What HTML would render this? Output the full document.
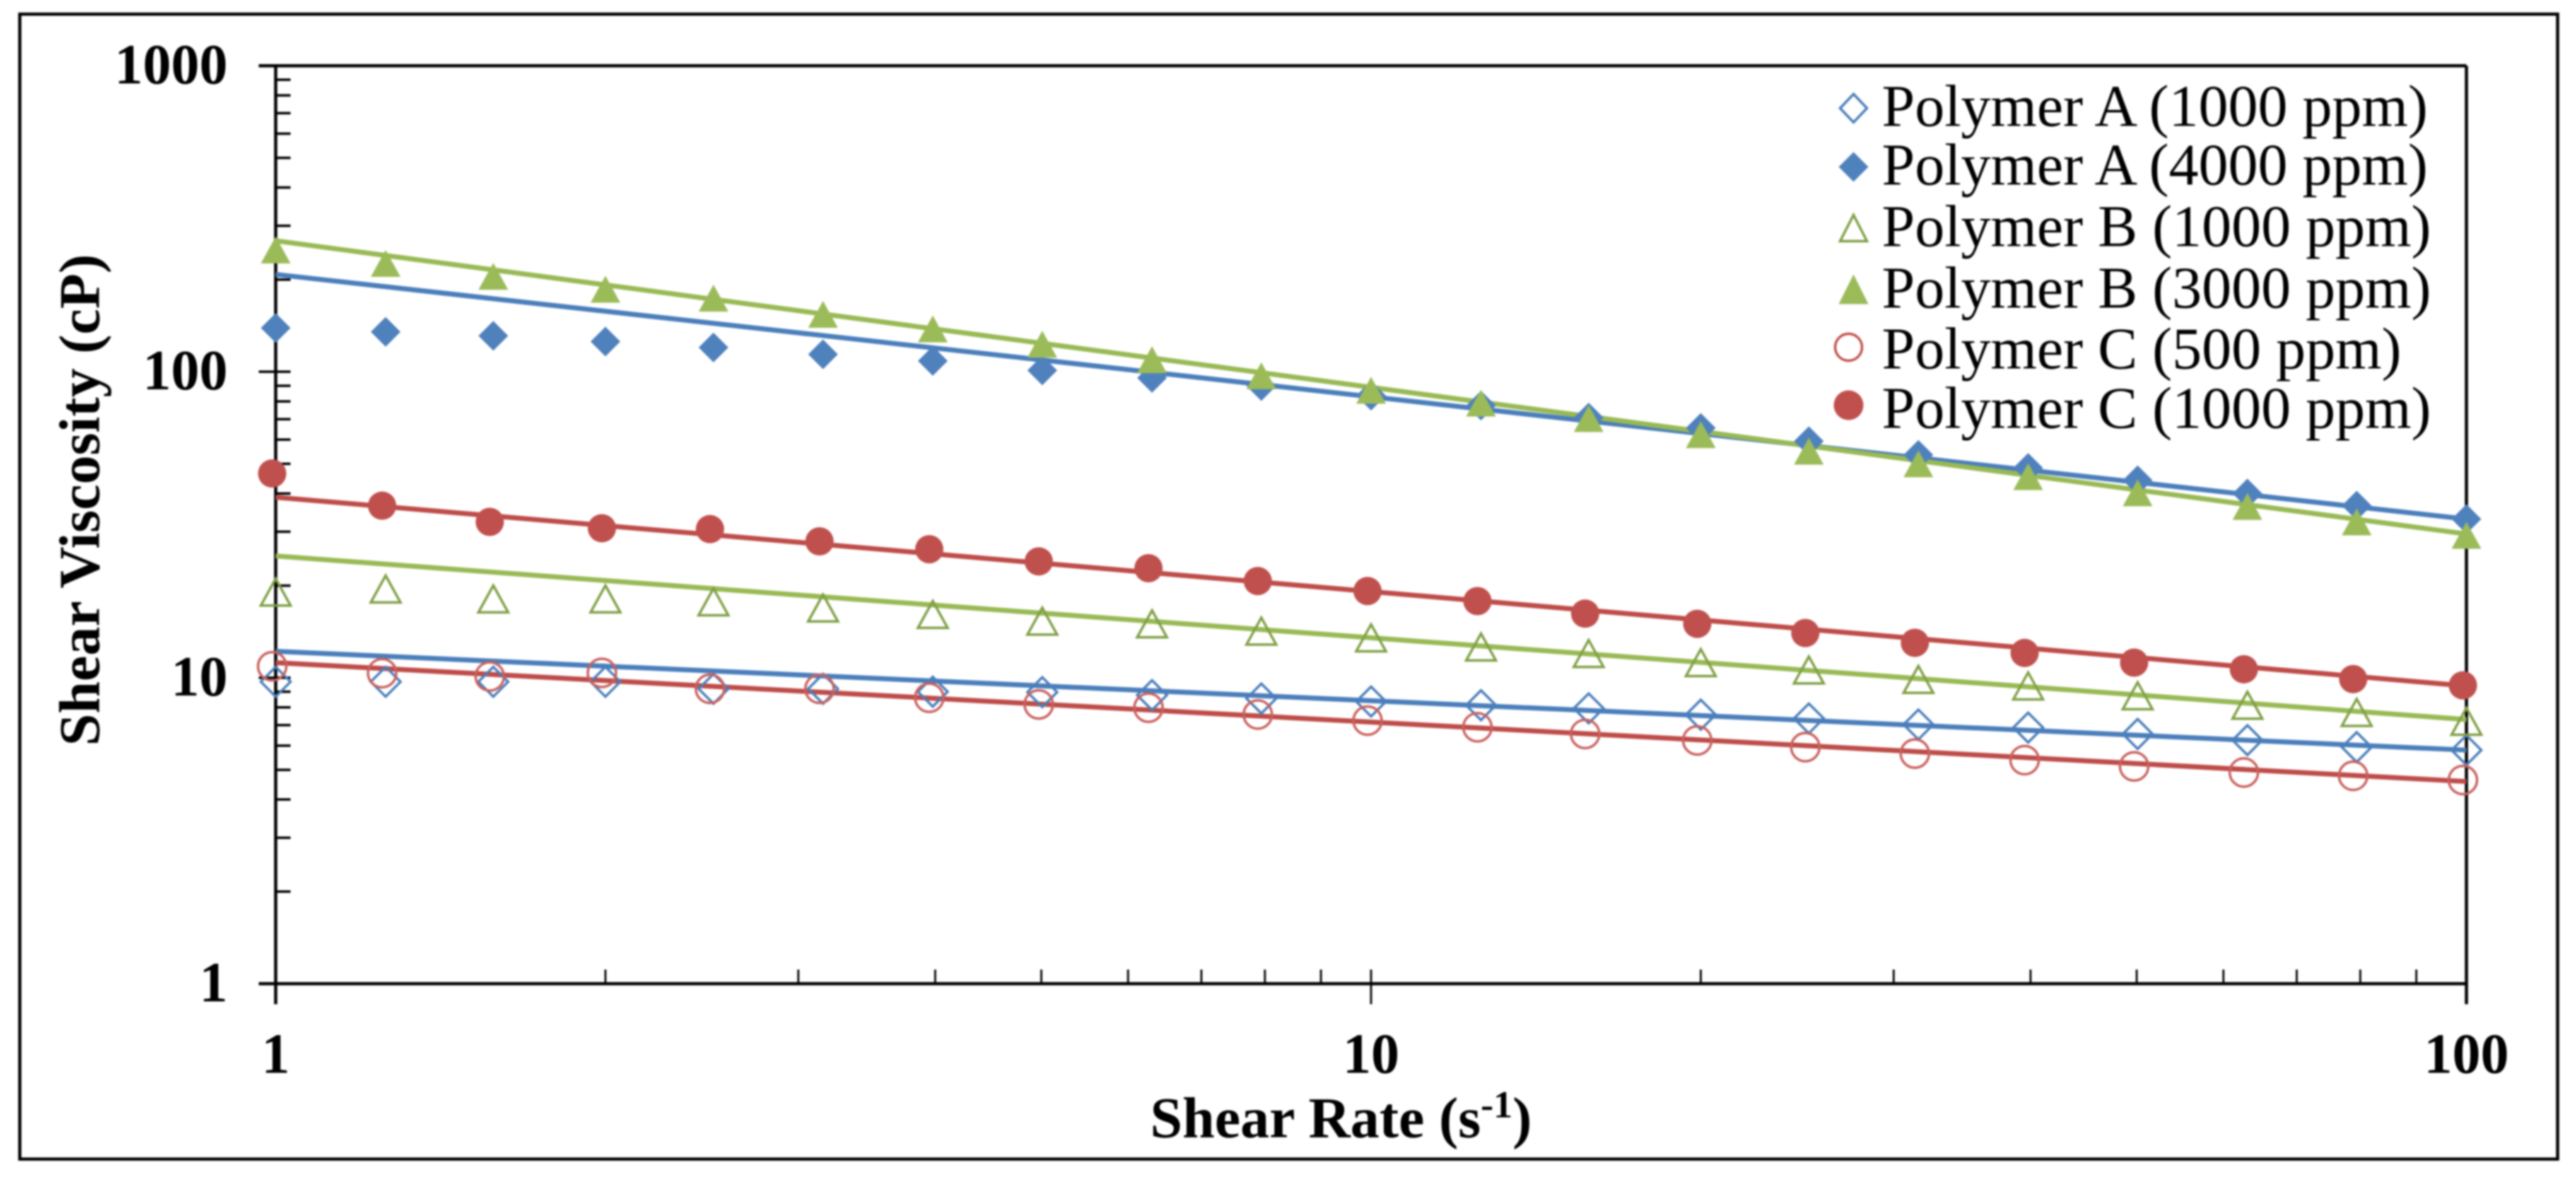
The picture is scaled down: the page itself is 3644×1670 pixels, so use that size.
<!DOCTYPE html>
<html lang="en">
<head>
<meta charset="utf-8">
<title>Shear Viscosity vs Shear Rate</title>
<style>
html,body{margin:0;padding:0;background:#fff;}
body{width:3644px;height:1670px;overflow:hidden;}
svg{display:block;filter:blur(1.2px);}
text{font-family:"Liberation Serif",serif;fill:#000;}
.tick{font-size:80px;font-weight:bold;}
.title{font-size:82px;font-weight:bold;}
.leg{font-size:84px;}
</style>
</head>
<body>
<svg id="chart" xmlns="http://www.w3.org/2000/svg" width="3644" height="1670" viewBox="0 0 3644 1670">
  <rect x="0" y="0" width="3644" height="1670" fill="#fff"/>
  <rect x="28" y="20" width="3590" height="1619" fill="none" stroke="#000" stroke-width="4.5"/>
  <g id="axes"></g>
  <g id="fits"></g>
  <g id="marks"></g>
  <text class="title" text-anchor="middle" transform="translate(140 707) rotate(-90)">Shear Viscosity (cP)</text>
  <text class="title" x="1627" y="1608">Shear Rate (s<tspan font-size="54" dy="-28">-1</tspan><tspan dy="28">)</tspan></text>
  <g>
    <g>
      <path d="M2622 133 L2641 153 L2622 173 L2603 153 Z" fill="none" stroke="#4A7EBB" stroke-width="3.5"/>
      <text class="leg" x="2662" y="178">Polymer A (1000 ppm)</text>
    </g>
    <g>
      <path d="M2622 215 L2643 236 L2622 257 L2601 236 Z" fill="#4F81BD"/>
      <text class="leg" x="2662" y="261">Polymer A (4000 ppm)</text>
    </g>
    <g>
      <path d="M2622 304 L2641 341 L2603 341 Z" fill="none" stroke="#7F9F45" stroke-width="3.5"/>
      <text class="leg" x="2662" y="348">Polymer B (1000 ppm)</text>
    </g>
    <g>
      <path d="M2622 388 L2643 430 L2601 430 Z" fill="#9BBB59"/>
      <text class="leg" x="2662" y="435">Polymer B (3000 ppm)</text>
    </g>
    <g>
      <circle cx="2615" cy="491" r="19" fill="none" stroke="#C0504D" stroke-width="3.5"/>
      <text class="leg" x="2662" y="521">Polymer C (500 ppm)</text>
    </g>
    <g>
      <circle cx="2615" cy="573" r="21" fill="#C0504D"/>
      <text class="leg" x="2662" y="605">Polymer C (1000 ppm)</text>
    </g>
  </g>
</svg>
<script>
const shearRates = [1,1.26,1.58,2,2.51,3.16,3.98,5.01,6.31,7.94,10,12.6,15.8,20,25.1,31.6,39.8,50.1,63.1,79.4,100];
const polymerA1000 = [9.7,9.7,9.7,9.7,9.2,9.2,9,8.97,8.77,8.55,8.36,8.13,7.94,7.57,7.36,7.03,6.87,6.55,6.25,5.93,5.8];
const polymerA4000 = [139,135,131,125.5,120,114,108.5,101,95.5,89.8,83.5,77.5,70.8,65.5,59.3,53.5,48.5,44.2,40,36.5,33];
const polymerB1000 = [19.05,19.5,18.1,18.1,17.7,16.9,16.1,15.3,15,14.2,13.5,12.6,12,11.2,10.6,9.87,9.4,8.73,8.13,7.7,7.2];
const polymerB3000 = [250,226,205,186,174,154,138,123,109.5,97,87,79,70.3,62.3,55,50,45.4,40.2,36.3,32.3,29.2];
const polymerC500 = [10.9,10.35,10.1,10.37,9.2,9.2,8.6,8.18,7.98,7.58,7.24,6.89,6.55,6.24,5.93,5.65,5.38,5.13,4.9,4.78,4.63];
const polymerC1000 = [46.5,36.5,32.3,30.8,30.6,27.9,26.3,24,22.8,20.7,19.2,17.8,16.2,15,14,13,12.05,11.2,10.66,9.9,9.44];

const fitRates = [1,100];
const fitA1000 = [12.2,5.8];
const fitA4000 = [208,33];
const fitB1000 = [25,7.3];
const fitB3000 = [268,29.5];
const fitC500 = [11.2,4.58];
const fitC1000 = [38.9,9.4];

const xTickValues = [1,10,100];
const xTickLabels = ["1","10","100"];
const yTickValues = [1,10,100,1000];
const yTickLabels = ["1","10","100","1000"];
const minorFactors = [2,3,4,5,6,7,8,9];

const SVGNS = "http://www.w3.org/2000/svg";
const plotLeft = 390, plotRight = 3489, plotTop = 93, plotBottom = 1391;
const xMin = 1, xMax = 100, yMin = 1, yMax = 1000;

function xScale(v){
  return plotLeft + (Math.log10(v) - Math.log10(xMin)) / (Math.log10(xMax) - Math.log10(xMin)) * (plotRight - plotLeft);
}
function yScale(v){
  return plotBottom - (Math.log10(v) - Math.log10(yMin)) / (Math.log10(yMax) - Math.log10(yMin)) * (plotBottom - plotTop);
}
function make(tag, attrs){
  const el = document.createElementNS(SVGNS, tag);
  for (const k in attrs) el.setAttribute(k, attrs[k]);
  return el;
}

const axes = document.getElementById("axes");
const fits = document.getElementById("fits");
const marks = document.getElementById("marks");

function axisLine(name, x1, y1, x2, y2, w){
  const el = make("line", {x1:x1, y1:y1, x2:x2, y2:y2, stroke:"#000", "stroke-width":w});
  
  
  axes.appendChild(el);
}

axisLine("y-axis-line-left", plotLeft, plotTop, plotLeft, 1420, 4.5);
axisLine("y-axis-line-right", plotRight, plotTop, plotRight, 1420, 4.5);
axisLine("x-axis-line-bottom", 366, plotBottom, plotRight, plotBottom, 4.5);
axisLine("x-axis-line-top", 366, plotTop, plotRight, plotTop, 4.5);

for (const v of yTickValues) {
  if (v > yMin && v < yMax) axisLine("y-major-tick", 366, yScale(v), 411, yScale(v), 3.5);
  if (v < yMax) {
    for (const f of minorFactors) axisLine("y-minor-tick", plotLeft, yScale(v * f), 411, yScale(v * f), 3.5);
  }
}
for (const v of xTickValues) {
  if (v > xMin && v < xMax) axisLine("x-major-tick", xScale(v), 1371, xScale(v), 1420, 2.8);
  if (v < xMax) {
    for (const f of minorFactors) axisLine("x-minor-tick", xScale(v * f), 1371, xScale(v * f), plotBottom, 2.8);
  }
}

yTickValues.forEach(function(v, i){
  const t = make("text", {class:"tick", x:322, y:yScale(v) + 25, "text-anchor":"end"});
  t.textContent = yTickLabels[i];
  
  
  axes.appendChild(t);
});
xTickValues.forEach(function(v, i){
  const t = make("text", {class:"tick", x:xScale(v), y:1517, "text-anchor":"middle"});
  t.textContent = xTickLabels[i];
  
  
  axes.appendChild(t);
});

function drawFit(name, values, color){
  const el = make("line", {
    x1:xScale(fitRates[0]), y1:yScale(values[0]),
    x2:xScale(fitRates[1]), y2:yScale(values[1]),
    stroke:color, "stroke-width":7
  });
  
  
  fits.appendChild(el);
}

function markerNode(shape, cx, cy, fill, stroke){
  const style = {fill: fill, stroke: stroke, "stroke-width": stroke === "none" ? 0 : 3.5};
  if (shape === "diamond") {
    const r = 21;
    return make("path", Object.assign({d:"M"+cx+" "+(cy-r)+" L"+(cx+r)+" "+cy+" L"+cx+" "+(cy+r)+" L"+(cx-r)+" "+cy+" Z"}, style));
  }
  if (shape === "triangle") {
    const hw = 21, hh = 19;
    return make("path", Object.assign({d:"M"+cx+" "+(cy-hh)+" L"+(cx+hw)+" "+(cy+hh)+" L"+(cx-hw)+" "+(cy+hh)+" Z"}, style));
  }
  return make("circle", Object.assign({cx:cx - 5, cy:cy, r:20}, style));
}

function drawMarkers(name, values, shape, fill, stroke){
  const group = make("g", {});
  
  
  values.forEach(function(v, i){
    const node = markerNode(shape, xScale(shearRates[i]), yScale(v), fill, stroke);
    
    
    group.appendChild(node);
  });
  marks.appendChild(group);
}

drawFit("trend-line-polymer-a-1000", fitA1000, "#4A7EBB");
drawFit("trend-line-polymer-a-4000", fitA4000, "#4A7EBB");
drawFit("trend-line-polymer-c-500", fitC500, "#BE4B48");
drawFit("trend-line-polymer-c-1000", fitC1000, "#BE4B48");
drawFit("trend-line-polymer-b-1000", fitB1000, "#98B954");
drawFit("trend-line-polymer-b-3000", fitB3000, "#98B954");

drawMarkers("series-polymer-a-1000", polymerA1000, "diamond", "none", "#4A7EBB");
drawMarkers("series-polymer-a-4000", polymerA4000, "diamond", "#4F81BD", "none");
drawMarkers("series-polymer-b-1000", polymerB1000, "triangle", "none", "#7F9F45");
drawMarkers("series-polymer-b-3000", polymerB3000, "triangle", "#9BBB59", "none");
drawMarkers("series-polymer-c-500", polymerC500, "circle", "none", "#C9605D");
drawMarkers("series-polymer-c-1000", polymerC1000, "circle", "#C0504D", "none");
</script>
</body>
</html>
